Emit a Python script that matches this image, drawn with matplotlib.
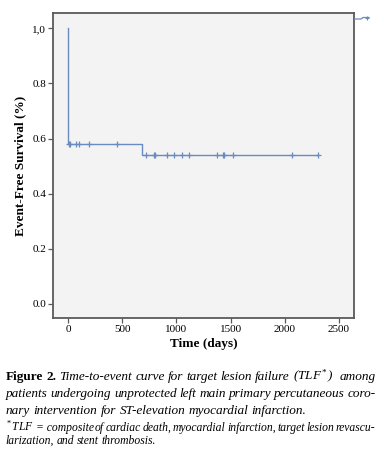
import matplotlib

matplotlib.use("Agg")
import matplotlib.pyplot as plt
from matplotlib.lines import Line2D

SERIF = ["Liberation Serif", "DejaVu Serif"]
plt.rcParams.update({"font.family": SERIF, "mathtext.fontset": "custom",
                     "mathtext.rm": "Liberation Serif", "mathtext.it": "Liberation Serif:italic"})

LINE = "#6a8bbf"
FRAME = "#5a5a5a"

# courbe KM (temps en jours, survie sans evenement)
event_days = [0, 0, 680, 2303]
survival = [1.0, 0.581, 0.541, 0.541]
# censures (+)
censor_days_a = [9, 18, 74, 101, 188, 455]
censor_surv_a = 0.581
censor_days_b = [716, 793, 803, 916, 981, 1049, 1113, 1371, 1427, 1439, 1519, 2066, 2303]
censor_surv_b = 0.541

x_ticks = [0, 500, 1000, 1500, 2000, 2500]
y_ticks = [0.0, 0.2, 0.4, 0.6, 0.8, 1.0]
y_labels = ["0.0", "0.2", "0.4", "0.6", "0.8", "1,0"]

caption = [
    [("Figure 2.", "bold"), ("Time-to-event curve for target lesion failure (TLF$^*$) among", "italic")],
    [("patients undergoing unprotected left main primary percutaneous coro-", "italic")],
    [("nary intervention for ST-elevation myocardial infarction.", "italic")],
]
footnote = [
    [("$^*$TLF = composite of cardiac death, myocardial infarction, target lesion revascu-", "italic")],
    [("larization, and stent thrombosis.", "italic")],
]

W, H = 384, 451
fig = plt.figure(figsize=(W / 100, H / 100), dpi=100)
ax = fig.add_axes([53 / W, 1 - 318 / H, 301 / W, 305 / H])
ax.set_facecolor("#f3f3f3")

ax.step(event_days, survival, where="post", color=LINE, lw=1.0)
ax.plot(censor_days_a, [censor_surv_a] * len(censor_days_a), "+", color=LINE, ms=4, mew=0.9)
ax.plot(censor_days_b, [censor_surv_b] * len(censor_days_b), "+", color=LINE, ms=4, mew=0.9)

ax.set_xlim(-140, 2640)
ax.set_ylim(-0.052, 1.056)
ax.set_xticks(x_ticks)
ax.set_yticks(y_ticks)
ax.set_yticklabels(y_labels)
ax.tick_params(direction="out", length=3.5, width=0.9, color=FRAME, labelsize=8, pad=1.5)
for s in ax.spines.values():
    s.set_color(FRAME)
    s.set_linewidth(1.3)
ax.set_xlabel("Time (days)", fontsize=9.5, fontweight="bold", labelpad=3)
ax.set_ylabel("Event-Free Survival (%)", fontsize=9.5, fontweight="bold", labelpad=4)

# bout de legende SPSS coupe en haut a droite
fig.add_artist(Line2D([355 / W, 361 / W, 363 / W, 369 / W],
                      [1 - 19 / H, 1 - 19 / H, 1 - 17.5 / H, 1 - 17.5 / H],
                      color=LINE, lw=0.9))
fig.add_artist(Line2D([367 / W], [1 - 17.5 / H], marker="+", color=LINE, ms=3.5, mew=0.8))

renderer = fig.canvas.get_renderer()


def text_w(s, size, kw):
    t = fig.text(0, 0, s, fontsize=size, **kw)
    w = t.get_window_extent(renderer).width
    t.remove()
    return w


def adv(s, size, kw):
    # avance de s : mesuree entre deux I pour ignorer l'encre des bords
    return text_w("I" + s + "I", size, kw) - text_w("II", size, kw)


def tokens(txt):
    # un signe isole ("=") reste colle au mot suivant
    out = []
    for w in txt.split(" "):
        if out and len(out[-1]) == 1 and not out[-1].isalnum():
            out[-1] += " " + w
        else:
            out.append(w)
    return out


def put_line(parts, y_px, size, justify, x0=6, x1=376):
    # positions naturelles de chaque mot (prefixes mesures d'un bloc), puis etirement
    items, start = [], 0.0
    for txt, style in parts:
        kw = {"fontweight": "bold"} if style == "bold" else {"fontstyle": "italic"}
        words = tokens(txt)
        for i, w in enumerate(words):
            off = adv(" ".join(words[:i]) + " ", size, kw) if i else 0.0
            items.append((w, kw, start + off))
        start += adv(txt + " ", size, kw)
    last_w, last_kw, last_x = items[-1]
    natural = last_x + adv(last_w, size, last_kw)
    extra = (x1 - x0 - natural) / (len(items) - 1) if justify and len(items) > 1 else 0.0
    for i, (w, kw, x) in enumerate(items):
        fig.text((x0 + x + i * extra) / W, 1 - y_px / H, w, fontsize=size,
                 va="baseline", ha="left", **kw)


cap_y = [380, 397, 414]
for i, (parts, y) in enumerate(zip(caption, cap_y)):
    put_line(parts, y, 9.5, justify=i < len(caption) - 1)
fn_y = [431, 444]
for i, (parts, y) in enumerate(zip(footnote, fn_y)):
    put_line(parts, y, 8.4, justify=i < len(footnote) - 1, x0=5, x1=375)

fig.savefig("out.png", dpi=100)
